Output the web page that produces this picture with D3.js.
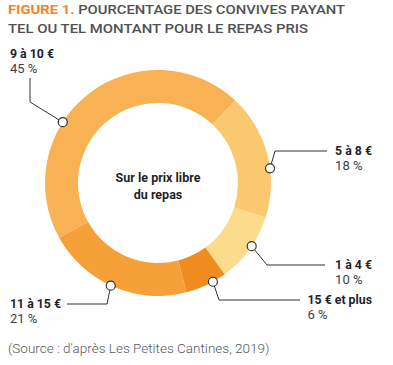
<!DOCTYPE html>
<html lang="fr">
<head>
<meta charset="UTF-8">
<title>Figure 1</title>
<script src="https://d3js.org/d3.v7.min.js"></script>
<style>
  body { margin: 0; background: #fff; }
  svg { display: block; font-family: Roboto, "Noto Sans", sans-serif; }
  .title { font-size: 13.5px; font-weight: 500; fill: #505155; }
  .title .fig { font-weight: 700; fill: #f0862a; }
  .lbl { font-size: 12.3px; font-weight: 700; fill: #1f1f2b; }
  .pct { font-size: 13px; fill: #3d3d4f; }
  .center { font-size: 12.5px; font-weight: 700; fill: #1f1f2b; text-anchor: middle; }
  .leader { fill: none; stroke: #333; stroke-width: 1; }
  .marker { fill: #fff; stroke: #333; stroke-width: 1.2; }
  .source { font-size: 13.5px; fill: #58595b; font-weight: 300; }
</style>
</head>
<body>
<svg id="chart" width="393" height="365"></svg>
<script>
// --- data ---
const categories = ["9 à 10 €", "5 à 8 €", "1 à 4 €", "15 € et plus", "11 à 15 €"];
const shares = [45, 18, 10, 6, 21];
const sliceColors = ["#f8b253", "#fac86f", "#fddb8c", "#f08c1f", "#f5a038"];

const titleLines = ["POURCENTAGE DES CONVIVES PAYANT", "TEL OU TEL MONTANT POUR LE REPAS PRIS"];
const centerText = ["Sur le prix libre", "du repas"];
const sourceText = "(Source : d'après Les Petites Cantines, 2019)";

// --- layout ---
const svg = d3.select("#chart");
const cx = 158, cy = 183;
const outerR = 113, innerR = 80;
const startDeg = -119;

// where the callout dot sits inside each slice (0..1) and how the leader runs
const callouts = [
  { at: 0.38, elbow: [30, 102], end: [30, 78], side: "left", tx: 10, ty: 58 },
  { at: 0.61, elbow: [275, 151], end: [327, 151], side: "right", tx: 372, ty: 155 },
  { at: 0.45, elbow: [267, 265], end: [325, 265], side: "right", tx: 372, ty: 269 },
  { at: 0.33, elbow: [219, 300], end: [300, 300], side: "right", tx: 372, ty: 304 },
  { at: 0.52, elbow: [107, 304], end: [67, 304], side: "left", tx: 10, ty: 308 }
];

// title (condensed face in the original, so stretch to its width)
const t = svg.append("text").attr("class", "title").attr("x", 8).attr("y", 14)
  .attr("textLength", 337).attr("lengthAdjust", "spacingAndGlyphs");
t.append("tspan").attr("class", "fig").text("FIGURE 1. ");
t.append("tspan").text(titleLines[0]);
svg.append("text").attr("class", "title").attr("x", 8).attr("y", 33)
  .attr("textLength", 300).attr("lengthAdjust", "spacingAndGlyphs")
  .text(titleLines[1]);

// donut
const pie = d3.pie().sort(null)
  .startAngle(startDeg * Math.PI / 180)
  .endAngle(startDeg * Math.PI / 180 + 2 * Math.PI);
const arcs = pie(shares);
const arc = d3.arc().innerRadius(innerR).outerRadius(outerR);

const g = svg.append("g").attr("transform", `translate(${cx},${cy})`);
g.selectAll("path.slice")
  .data(arcs)
  .enter().append("path")
  .attr("class", "slice")
  .attr("d", arc)
  .attr("fill", (d, i) => sliceColors[i]);

// center text
centerText.forEach((s, i) => {
  svg.append("text").attr("class", "center")
    .attr("x", cx).attr("y", 182 + i * 17).text(s);
});

// callouts
arcs.forEach((d, i) => {
  const c = callouts[i];
  const a = d.startAngle + (d.endAngle - d.startAngle) * c.at;
  const mx = cx + outerR * Math.sin(a);
  const my = cy - outerR * Math.cos(a);

  svg.append("path").attr("class", "leader")
    .attr("d", d3.line()([[mx, my], c.elbow, c.end]));
  svg.append("circle").attr("class", "marker")
    .attr("cx", mx).attr("cy", my).attr("r", 4.5);

  const lbl = svg.append("text").attr("class", "lbl").attr("y", c.ty).text(categories[i]);
  let x = c.tx;
  if (c.side === "right") {
    x = c.tx - lbl.node().getComputedTextLength();
  }
  lbl.attr("x", x);
  svg.append("text").attr("class", "pct").attr("x", x).attr("y", c.ty + 15)
    .text(shares[i] + " %");
});

// source
svg.append("text").attr("class", "source").attr("x", 8).attr("y", 353).text(sourceText);
</script>
</body>
</html>
